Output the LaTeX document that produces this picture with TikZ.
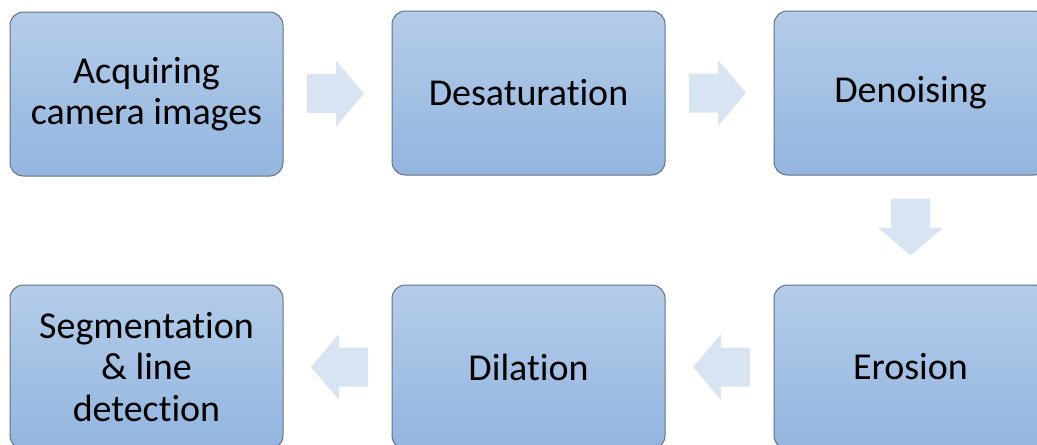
\documentclass[tikz,border=0pt]{standalone}
\usepackage{fontspec}
\setmainfont{Carlito}[Ligatures=NoCommon]
\usetikzlibrary{calc}
\definecolor{boxtop}{HTML}{B4CCE9}
\definecolor{boxbottom}{HTML}{93B5DF}
\definecolor{boxedge}{HTML}{66707E}
\definecolor{arrowfill}{HTML}{D9E4F3}
\begin{document}
\begin{tikzpicture}[x=0.75pt,y=-0.75pt,
  stage/.style={rectangle, rounded corners=10pt, draw=boxedge, line width=0.75pt,
    top color=boxtop, bottom color=boxbottom,
    minimum width=204.75pt, minimum height=123pt, align=center, inner sep=0pt,
    font=\fontsize{28.5}{31}\selectfont, text=black},
  flow arrow/.pic={
    \fill[arrowfill] (-28.5,-19.5) -- (0.5,-19.5) -- (0.5,-33) -- (28.5,0)
      -- (0.5,33) -- (0.5,19.5) -- (-28.5,19.5) -- cycle;}
]
\useasboundingbox (0,0) rectangle (1037,444);
\clip (0,0) rectangle (1037,444);

% processing stages
\node[stage] (acq)      at (146.5,94)  {Acquiring\\camera images};
\node[stage] (desat)    at (528.5,93)  {Desaturation};
\node[stage] (denoise)  at (910.5,93)  {Denoising};
\node[stage] (erosion)  at (910.5,367) {Erosion};
\node[stage] (dilation) at (528.5,367) {Dilation};
\node[stage] (segment)  at (146.5,367) {Segmentation\\\&~line\\detection};

% block arrows between consecutive stages
\pic at ($(acq.east)!0.5!(desat.west)+(-2,0)$) {flow arrow};
\pic at ($(desat.east)!0.5!(denoise.west)+(-2,0)$) {flow arrow};
\pic[rotate=-90] at ($(denoise.south)!0.5!(erosion.north)+(0,-3)$) {flow arrow};
\pic[rotate=180] at ($(erosion.west)!0.5!(dilation.east)+(2,0)$) {flow arrow};
\pic[rotate=180] at ($(dilation.west)!0.5!(segment.east)+(2,0)$) {flow arrow};
\end{tikzpicture}
\end{document}
